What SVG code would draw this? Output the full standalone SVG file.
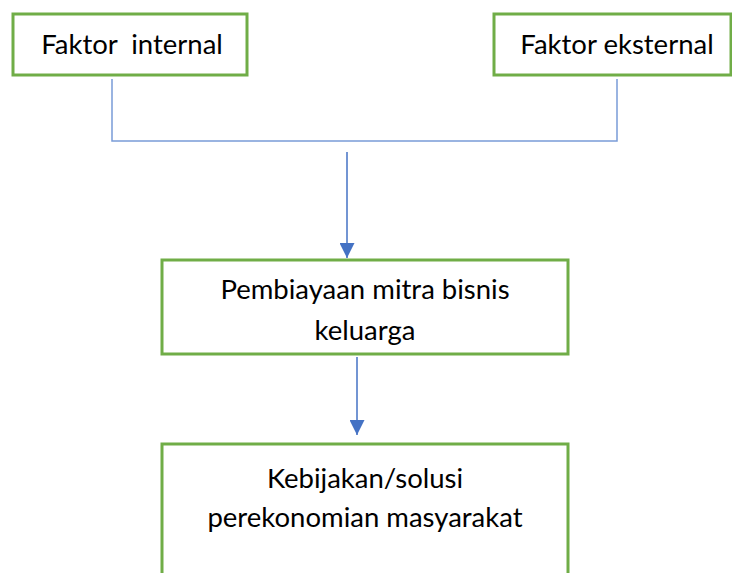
<svg xmlns="http://www.w3.org/2000/svg" width="732" height="573" viewBox="0 0 732 573">
<defs>
<style>
.box{fill:#fff;stroke:#70AD47;stroke-width:3}
.t{font-family:Lato,"Open Sans","Liberation Sans",sans-serif;font-size:27.5px;fill:#000;text-anchor:middle}
.ln{fill:none;stroke:#7A9CD8;stroke-width:1.5}
.ar{fill:none;stroke:#4472C4;stroke-width:1.5}
</style>
<marker id="ah" viewBox="0 0 10 10" refX="10" refY="5" markerWidth="15" markerHeight="15" markerUnits="userSpaceOnUse" orient="auto">
<path d="M0,0 L10,5 L0,10 Z" fill="#4472C4"/>
</marker>
</defs>
<rect width="732" height="573" fill="#fff"/>
<g id="connectors">
<path class="ln" d="M112,79 V141 H617 V79"/>
<line class="ar" x1="347" y1="152" x2="347" y2="258" marker-end="url(#ah)"/>
<line class="ar" x1="357" y1="357" x2="357" y2="435" marker-end="url(#ah)"/>
</g>
<g id="faktor-internal">
<rect class="box" x="13" y="14" width="234" height="61"/>
<text class="t" x="132" y="54" xml:space="preserve">Faktor  internal</text>
</g>
<g id="faktor-eksternal">
<rect class="box" x="494" y="14" width="237" height="61"/>
<text class="t" x="617" y="54">Faktor eksternal</text>
</g>
<g id="pembiayaan">
<rect class="box" x="162" y="260" width="406" height="94"/>
<text class="t" x="365" y="299">Pembiayaan mitra bisnis</text>
<text class="t" x="365" y="340">keluarga</text>
</g>
<g id="kebijakan">
<rect class="box" x="162" y="444" width="406" height="140"/>
<text class="t" x="365" y="488">Kebijakan/solusi</text>
<text class="t" x="365" y="527">perekonomian masyarakat</text>
</g>
</svg>
